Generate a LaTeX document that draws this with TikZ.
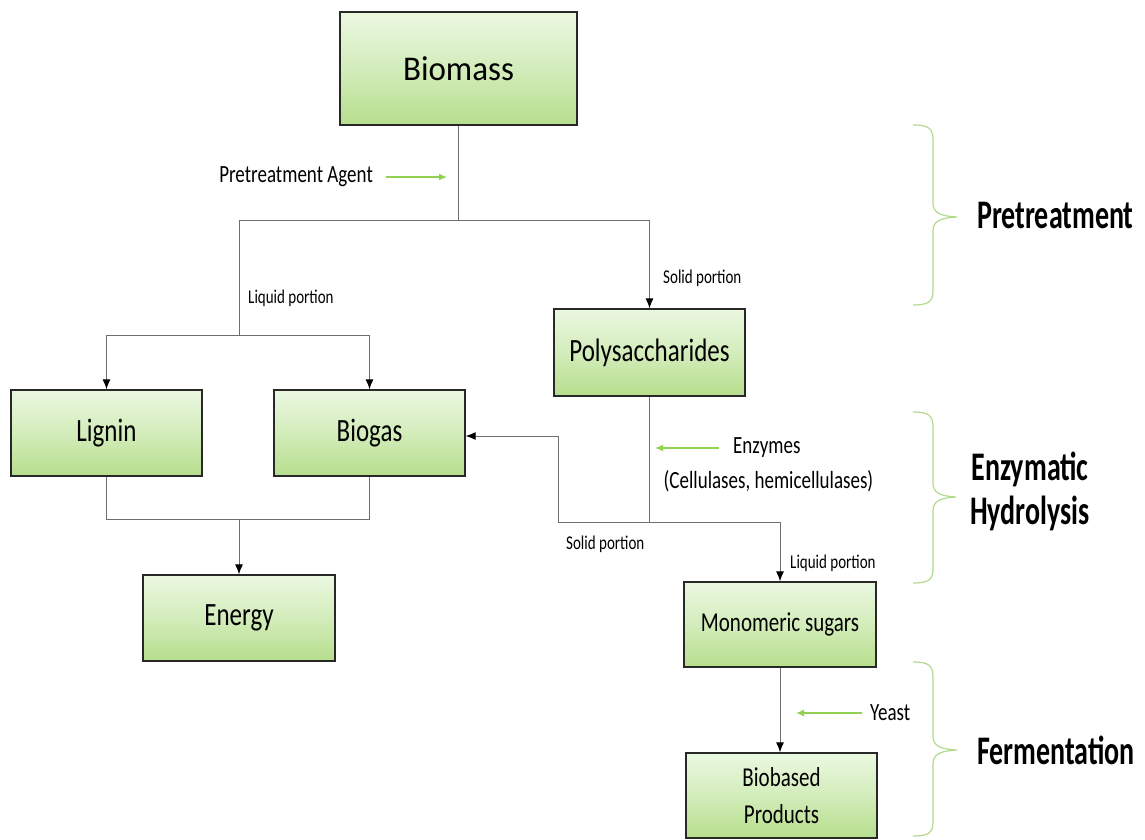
\documentclass[tikz,border=0pt]{standalone}
\usepackage{fontspec}
\usepackage{graphicx}
\setmainfont{Carlito}
\usetikzlibrary{arrows.meta}
\definecolor{gTop}{RGB}{235,248,225}
\definecolor{gBot}{RGB}{182,222,140}
\definecolor{boxLine}{RGB}{40,40,40}
\definecolor{conLine}{RGB}{110,110,110}
\definecolor{agentGreen}{RGB}{146,208,80}
\definecolor{braceGreen}{RGB}{176,218,140}
\newcommand{\vst}[2]{\scalebox{1}[#1]{#2}}
\tikzset{
  procbox/.style={draw=boxLine, line width=1.3pt, top color=gTop, bottom color=gBot, middle color=gTop!55!gBot, inner sep=2pt, align=center},
  con/.style={draw=conLine, line width=1pt},
  arr/.style={con, -{Latex[length=10pt,width=8pt,black]}},
  agent/.style={draw=agentGreen, line width=1.2pt, -{Latex[length=8pt,width=7pt]}},
  bracestyle/.style={draw=braceGreen, line width=1.2pt},
  lbl/.style={inner sep=0pt, font=\fontsize{19}{22}\selectfont},
  small/.style={inner sep=0pt, font=\fontsize{15}{18}\selectfont},
  phase/.style={inner sep=0pt, font=\fontsize{28}{44}\selectfont\bfseries, align=center},
}
\begin{document}
\begin{tikzpicture}[x=1pt,y=-1pt]
\useasboundingbox (0,0) rectangle (1145,840);
% boxes
\node[procbox, minimum width=237pt, minimum height=113pt, font=\fontsize{33}{36}\selectfont] (biomass) at (458.5,68.5) {\vst{1.05}{Biomass}};
\node[procbox, minimum width=191pt, minimum height=87pt, font=\fontsize{25}{28}\selectfont] (poly) at (649.5,352.5) {\vst{1.3}{Polysaccharides}};
\node[procbox, minimum width=191pt, minimum height=86pt, font=\fontsize{25}{28}\selectfont] (lignin) at (106.5,433) {\vst{1.3}{Lignin}};
\node[procbox, minimum width=191pt, minimum height=86pt, font=\fontsize{25}{28}\selectfont] (biogas) at (369.5,433) {\vst{1.3}{Biogas}};
\node[procbox, minimum width=192pt, minimum height=86pt, font=\fontsize{25}{28}\selectfont] (energy) at (239,618) {\vst{1.3}{Energy}};
\node[procbox, minimum width=192pt, minimum height=85pt, font=\fontsize{21}{24}\selectfont] (mono) at (780,624.5) {\vst{1.3}{Monomeric sugars}};
\node[procbox, minimum width=191pt, minimum height=85pt, font=\fontsize{21}{37}\selectfont] (bio) at (781.5,795.5) {\vst{1.3}{Biobased}\\\vst{1.3}{Products}};
% junction coordinates
\coordinate (j1) at (458.5,220);
\coordinate (jL) at (239,220);
\coordinate (jR) at (649.5,220);
\coordinate (jL2) at (239,335);
\coordinate (jLa) at (106.5,335);
\coordinate (jLb) at (369.5,335);
\coordinate (j2) at (649.5,522);
\coordinate (jS) at (558,522);
\coordinate (jS2) at (558,436);
\coordinate (jM) at (780,522);
\coordinate (jE1) at (106.5,519);
\coordinate (jE2) at (369.5,519);
\coordinate (jE) at (239,519);
% connectors
\draw[con] (biomass.south) -- (j1);
\draw[con] (jL) -- (jR);
\draw[con] (jL) -- (jL2);
\draw[con] (jLa) -- (jLb);
\draw[arr] (jLa) -- (lignin.north);
\draw[arr] (jLb) -- (biogas.north);
\draw[arr] (jR) -- (poly.north);
\draw[con] (poly.south) -- (j2);
\draw[con] (jS) -- (jM);
\draw[con] (jS) -- (jS2);
\draw[arr] (jS2) -- (biogas.east |- jS2);
\draw[arr] (jM) -- (mono.north);
\draw[con] (lignin.south) -- (jE1) -- (jE2) -- (biogas.south);
\draw[arr] (jE) -- (energy.north);
\draw[arr] (mono.south) -- (bio.north -| mono.south);
% labels
\node[lbl, anchor=east] (pta) at (373,177) {\vst{1.3}{Pretreatment Agent}};
\coordinate (ptaA) at (386,177);
\coordinate (ptaB) at (447,177);
\draw[agent] (ptaA) -- (ptaB);
\node[small, anchor=west] (lp1) at (248,298) {\vst{1.3}{Liquid portion}};
\node[small, anchor=west] (sp1) at (663,278) {\vst{1.3}{Solid portion}};
\node[lbl, anchor=west] (enz) at (733,448) {\vst{1.3}{Enzymes}};
\node[lbl] (cel) at (768.5,481) {\vst{1.3}{(Cellulases, hemicellulases)}};
\coordinate (enzA) at (719,448);
\coordinate (enzB) at (655,448);
\draw[agent] (enzA) -- (enzB);
\node[small, anchor=west] (sp2) at (566,544) {\vst{1.3}{Solid portion}};
\node[small, anchor=west] (lp2) at (790,563) {\vst{1.3}{Liquid portion}};
\node[lbl, anchor=west] (yeast) at (870,713) {\vst{1.3}{Yeast}};
\coordinate (yA) at (862,713);
\coordinate (yB) at (796,713);
\draw[agent] (yA) -- (yB);
% braces
\draw[bracestyle] (913,125) .. controls (928,125) and (933,128) .. (933,140) -- (933,203) .. controls (933,213) and (940,216) .. (957,217) .. controls (940,218) and (933,221) .. (933,231) -- (933,291) .. controls (933,302) and (928,305) .. (913,305);
\draw[bracestyle] (913,412) .. controls (928,412) and (933,415) .. (933,427) -- (933,483) .. controls (933,493) and (940,496) .. (956,497) .. controls (940,498) and (933,501) .. (933,511) -- (933,569) .. controls (933,580) and (928,583) .. (913,583);
\draw[bracestyle] (913,662) .. controls (928,662) and (933,665) .. (933,677) -- (933,736) .. controls (933,746) and (940,749) .. (957,750) .. controls (940,751) and (933,754) .. (933,764) -- (933,822) .. controls (933,833) and (928,836) .. (913,836);
\node[phase, anchor=west] (ph1) at (977,215) {\vst{1.45}{Pretreatment}};
\node[phase] (ph2) at (1030,491) {\vst{1.45}{Enzymatic}\\\vst{1.45}{Hydrolysis}};
\node[phase, anchor=west] (ph3) at (977,750) {\vst{1.45}{Fermentation}};
\end{tikzpicture}
\end{document}
